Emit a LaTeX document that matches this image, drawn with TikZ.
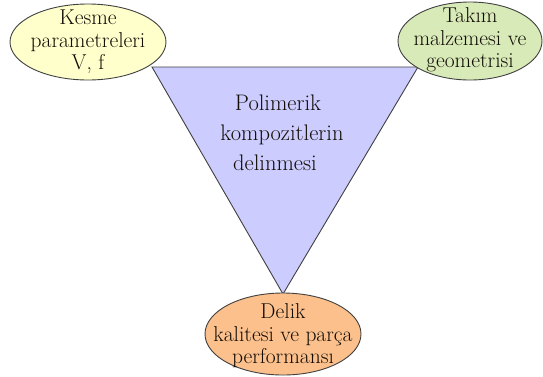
\documentclass[tikz,border=0pt]{standalone}
\usepackage{fontspec}
\usetikzlibrary{shapes.geometric}
\begin{document}
\begin{tikzpicture}[x=1pt,y=-1pt,
  lbl/.style={align=center,font=\rmfamily\fontsize{21.5}{22.5}\selectfont,text=black!90!brown},
  tlbl/.style={font=\rmfamily\fontsize{22.5}{24}\selectfont,text=black!90!brown,inner sep=0pt,anchor=base}]
\path[use as bounding box] (0,0) rectangle (543,376);
% triangle
\coordinate (tl) at (152,67);
\coordinate (tr) at (418,67);
\coordinate (bt) at (283,294);
\draw[fill={rgb,255:red,204;green,204;blue,255},draw=black!75,line width=0.9pt] (tl) -- (tr) -- (bt) -- cycle;
\node[tlbl] (t1) at (278,110) {Polimerik};
\node[tlbl] (t2) at (282,140) {kompozitlerin};
\node[tlbl] (t3) at (275,170) {delinmesi};
% ellipses
\draw[fill={rgb,255:red,255;green,255;blue,204},draw=black!75,line width=0.9pt] (88,42) ellipse [x radius=78,y radius=38];
\node[lbl] (k) at (88,42) {Kesme\\parametreleri\\V, f};
\draw[fill={rgb,255:red,216;green,234;blue,184},draw=black!75,line width=0.9pt] (470,41) ellipse [x radius=72,y radius=39];
\node[lbl] (tk) at (470,40) {Takım\\malzemesi ve\\geometrisi};
\draw[fill={rgb,255:red,251;green,192;blue,140},draw=black!75,line width=0.9pt] (283,334) ellipse [x radius=78,y radius=41];
\node[lbl] (d) at (283,336) {Delik\\kalitesi ve parça\\performansı};
\end{tikzpicture}
\end{document}
